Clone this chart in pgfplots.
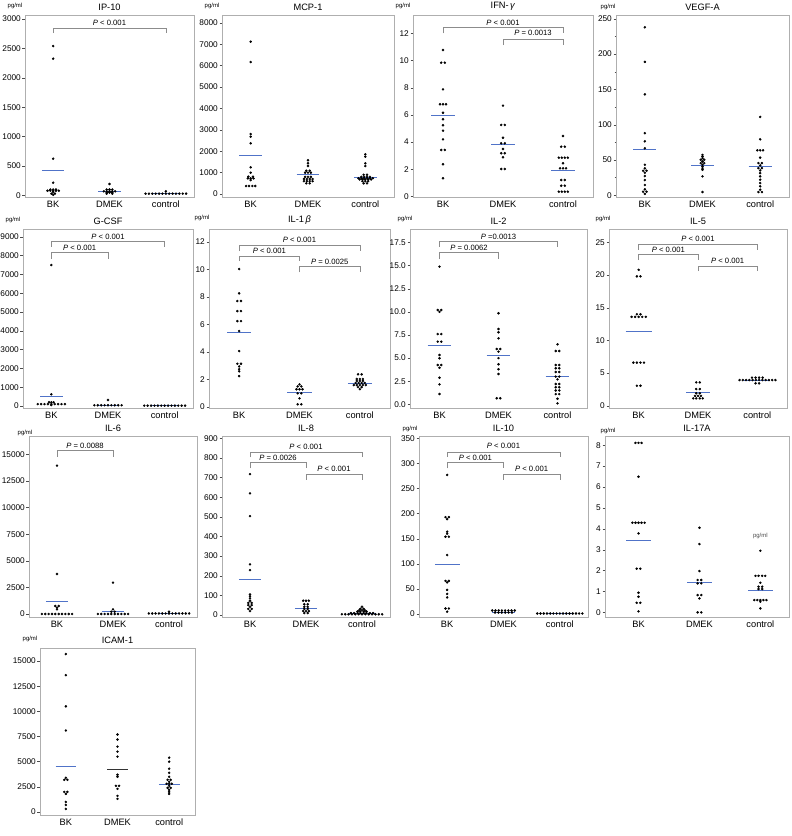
\documentclass[border=0pt]{standalone}
\usepackage{fontspec}
\setmainfont{Liberation Sans}
\usepackage{pgfplots}
\pgfplotsset{compat=1.18}
\definecolor{medc}{RGB}{80,115,200}
\definecolor{framec}{RGB}{175,175,175}
\definecolor{brkc}{RGB}{140,140,140}
\pgfplotsset{
 panel/.style={
  scale only axis, anchor=north west,
  xmin=0.5, xmax=3.5,
  xtick={1,2,3}, xticklabels={BK,DMEK,control},
  xtick style={draw=none},
  ytick pos=left,
  tick align=outside,
  major tick length=2.5bp,
  minor tick length=1.5bp,
  y tick style={black!70, line width=0.4pt},
  axis line style={framec, line width=0.6pt},
  title style={font=\fontsize{9.3}{10}\selectfont, yshift=-5bp},
  /pgf/number format/assume math mode=true,
  yticklabel style={font=\fontsize{8.3}{9}\selectfont, /pgf/number format/1000 sep={}, inner sep=1.5bp},
  xticklabel style={font=\fontsize{9.3}{10}\selectfont, inner sep=1.5bp},
  scaled y ticks=false,
  clip=false,
 },
 dots/.style={only marks, mark=*, mark size=1.05pt, black},
 medl/.style={medc, line width=0.9pt, no marks},
}
\newcommand{\brk}[7]{%
  \draw[brkc, line width=0.6pt] (axis cs:#1,#3) -- (axis cs:#1,#4) -- (axis cs:#2,#4) -- (axis cs:#2,#3);
  \node[font=\fontsize{7.7}{8}\selectfont, inner sep=0pt] at (axis cs:#5,#6) {#7};}
\newcommand{\pgml}[2]{\node[font=\fontsize{6}{7}\selectfont, inner sep=0pt] at (rel axis cs:0,1) [xshift=#1bp, yshift=#2bp] {pg/ml};}
\begin{document}
\begin{tikzpicture}
\path[use as bounding box] (0,0) rectangle (792bp,-836bp);

% ---------------- IP-10
\begin{axis}[panel, at={(25bp,-15bp)}, width=169bp, height=182bp,
  ymin=-27, ymax=3068, ytick={0,500,...,3000}, title={IP-10}]
\addplot[dots] coordinates {(1,2540)(1,2325)(1,624)(1,216)(0.95,100)(1,100)(1.05,100)
 (0.9,80)(0.95,80)(1,80)(1.05,80)(1.1,80)(1,60)(0.97,30)(1.03,30)(1,10)};
\addplot[dots] coordinates {(2,194)(1.95,100)(2,100)(2.05,100)(1.9,70)(1.95,70)(2,70)(2.05,70)(2.1,70)
 (1.95,50)(2,50)(2.05,50)(1.95,30)(2.05,30)};
\addplot[dots] coordinates {(3,70)(2.64,30)(2.70,30)(2.76,30)(2.82,30)(2.88,30)(2.94,30)(3.00,30)(3.06,30)(3.12,30)(3.18,30)(3.24,30)(3.30,30)(3.36,30)};
\addplot[medl] coordinates {(0.8,420)(1.2,420)};
\addplot[medl] coordinates {(1.8,70)(2.2,70)};
\addplot[medl] coordinates {(2.75,30)(3.25,30)};
\brk{1}{3}{2760}{2840}{2}{2940}{\textit{P} < 0.001}
\pgml{-10}{9}
\end{axis}

% ---------------- MCP-1
\begin{axis}[panel, at={(222bp,-15bp)}, width=172bp, height=182bp,
  ymin=-140, ymax=8365, ytick={0,1000,...,8000}, title={MCP-1}]
\addplot[dots] coordinates {(1,7117)(1,6168)(1,2804)(1,2678)(1,2369)(1,1248)(1,995)(0.96,810)(1.04,810)
 (0.95,730)(1,730)(1.05,730)(1,650)(0.92,374)(0.97,374)(1.03,374)(1.08,374)};
\addplot[dots] coordinates {(2,1575)(2,1434)(2,1308)(1.97,1090)(2.03,1090)(1.95,1000)(2,1000)(2.05,1000)
 (1.95,800)(2,800)(2.05,800)(1.93,700)(1.98,700)(2.03,700)(2.08,700)(1.93,600)(1.98,600)(2.03,600)(2.08,600)(1.97,500)(2.03,500)};
\addplot[dots] coordinates {(3,1855)(3,1743)(3,1434)(3,1308)(2.97,900)(3.03,900)(2.93,800)(2.98,800)(3.03,800)(3.08,800)
 (2.88,740)(2.93,740)(2.98,740)(3.03,740)(3.08,740)(3.13,740)(2.9,680)(2.95,680)(3,680)(3.05,680)(3.1,680)
 (2.95,600)(3,600)(3.05,600)(2.97,500)(3.03,500)};
\addplot[medl] coordinates {(0.8,1808)(1.2,1808)};
\addplot[medl] coordinates {(1.8,920)(2.2,920)};
\addplot[medl] coordinates {(2.8,780)(3.2,780)};
\pgml{-10}{9}
\end{axis}

% ---------------- IFN-gamma
\begin{axis}[panel, at={(413bp,-15bp)}, width=180bp, height=182bp,
  ymin=-0.04, ymax=13.35, ytick={0,2,...,12}, title={IFN-\,\textit{γ}}]
\addplot[dots] coordinates {(1,10.77)(0.97,9.84)(1.03,9.84)(1,7.88)(0.95,6.78)(1,6.78)(1.05,6.78)(1,6.16)(1,5.68)
 (1,5.24)(1,4.84)(1,4.2)(0.97,3.42)(1.03,3.42)(1,2.37)(1,1.34)};
\addplot[dots] coordinates {(2,6.68)(1.97,5.26)(2.03,5.26)(2,4.32)(1.97,3.91)(2.03,3.91)(2,3.49)(1.97,3.18)(2.03,3.18)
 (2,2.88)(1.97,2.02)(2.03,2.02)};
\addplot[dots] coordinates {(3,4.45)(2.97,3.66)(3.03,3.66)(2.93,2.85)(2.98,2.85)(3.03,2.85)(3.08,2.85)(3,2.44)
 (2.95,2.07)(3,2.07)(3.05,2.07)(2.97,1.21)(3.03,1.21)(2.97,0.79)(3.03,0.79)(2.93,0.35)(2.98,0.35)(3.03,0.35)(3.08,0.35)};
\addplot[medl] coordinates {(0.8,5.97)(1.2,5.97)};
\addplot[medl] coordinates {(1.8,3.81)(2.2,3.81)};
\addplot[medl] coordinates {(2.8,1.95)(3.2,1.95)};
\brk{1}{3}{12.0}{12.44}{2}{12.8}{\textit{P} < 0.001}
\brk{2}{3}{11.14}{11.58}{2.5}{12.0}{\textit{P} = 0.0013}
\pgml{-10}{9}
\end{axis}

% ---------------- VEGF-A
\begin{axis}[panel, at={(616bp,-15bp)}, width=173bp, height=182bp,
  ymin=-2.4, ymax=255.4, ytick={0,50,...,250}, minor y tick num=1, title={VEGF-A}]
\addplot[dots] coordinates {(1,238)(1,189)(1,143)(1,88)(1,76.5)(1,66.6)(1,43.3)(1,38.1)(0.97,34.8)(1.03,34.8)(1,32)
 (1,27.3)(1,21.6)(1,14.6)(1,8.4)(0.97,5.1)(1.03,5.1)(1,2)};
\addplot[dots] coordinates {(2,57.3)(2,55)(2,52.6)(1.97,50.3)(2.03,50.3)(2,47.9)(1.97,45.6)(2.03,45.6)(2,43.2)(2,40.9)
 (2,38.5)(2,36.2)(2,26.8)(2,4.6)};
\addplot[dots] coordinates {(3,111)(3,79.3)(2.95,63.7)(3,63.7)(3.05,63.7)(3,53.4)(2.97,45.6)(3.03,45.6)(3,42.3)
 (2.97,38.5)(3.03,38.5)(3,35.2)(3,31.4)(3,26.8)(3,22.1)(3,17.4)(3,12.7)(3,8)(2.97,4.6)(3.03,4.6)};
\addplot[medl] coordinates {(0.8,65.2)(1.2,65.2)};
\addplot[medl] coordinates {(1.8,41.9)(2.2,41.9)};
\addplot[medl] coordinates {(2.8,41)(3.2,41)};
\pgml{-8}{8}
\end{axis}

% ---------------- G-CSF
\begin{axis}[panel, at={(23bp,-229bp)}, width=170bp, height=179bp,
  ymin=-106, ymax=9415, ytick={0,1000,...,9000}, title={G-CSF}]
\addplot[dots] coordinates {(1,7500)(1,622)(0.96,200)(1,200)(1.04,200)(0.76,100)(0.82,100)(0.88,100)(0.94,100)(1,100)
 (1.06,100)(1.12,100)(1.18,100)(1.24,100)(1,50)};
\addplot[dots] coordinates {(2,319)(1.76,40)(1.82,40)(1.88,40)(1.94,40)(2,40)(2.06,40)(2.12,40)(2.18,40)(2.24,40)};
\addplot[dots] coordinates {(2.64,20)(2.70,20)(2.76,20)(2.82,20)(2.88,20)(2.94,20)(3.00,20)(3.06,20)(3.12,20)(3.18,20)(3.24,20)(3.30,20)(3.36,20)};
\addplot[medl] coordinates {(0.8,532)(1.2,532)};
\addplot[medl] coordinates {(1.8,40)(2.2,40)};
\addplot[medl] coordinates {(2.75,20)(3.25,20)};
\brk{1}{2}{7819}{8176}{1.5}{8420}{\textit{P} < 0.001}
\brk{1}{3}{8473}{8740}{2}{9005}{\textit{P} < 0.001}
\pgml{-10}{9}
\end{axis}

% ---------------- IL-1beta
\begin{axis}[panel, at={(209bp,-229bp)}, width=181bp, height=179bp,
  ymin=-0.07, ymax=12.95, ytick={0,2,...,12}, title={IL-1\,\textit{β}}]
\addplot[dots] coordinates {(1,10.04)(1,8.27)(0.97,7.71)(1.03,7.71)(0.97,6.98)(1.03,6.98)(0.97,6.25)(1.03,6.25)(1,5.53)
 (1,4.07)(0.97,3.15)(1.03,3.15)(1,2.95)(1,2.75)(1,2.6)(1,2.25)};
\addplot[dots] coordinates {(2,1.65)(1.97,1.5)(2.03,1.5)(1.95,1.29)(2,1.29)(2.05,1.29)(1.97,1.0)(2.03,1.0)(2,0.63)(1.97,0.2)(2.03,0.2)};
\addplot[dots] coordinates {(2.97,2.38)(3.03,2.38)(2.95,2.04)(3,2.04)(3.05,2.04)(2.95,1.9)(3,1.9)(3.05,1.9)(2.93,1.75)(2.98,1.75)
 (3.03,1.75)(3.08,1.75)(2.9,1.6)(2.95,1.6)(3,1.6)(3.05,1.6)(3.1,1.6)(2.97,1.45)(3.03,1.45)(3,1.3)};
\addplot[medl] coordinates {(0.8,5.43)(1.2,5.43)};
\addplot[medl] coordinates {(1.8,1.07)(2.2,1.07)};
\addplot[medl] coordinates {(2.8,1.72)(3.2,1.72)};
\brk{1}{3}{11.35}{11.78}{2}{12.15}{\textit{P} < 0.001}
\brk{1}{2}{10.62}{10.98}{1.5}{11.37}{\textit{P} < 0.001}
\brk{2}{3}{9.8}{10.25}{2.5}{10.57}{\textit{P} = 0.0025}
\pgml{-7}{11}
\end{axis}

% ---------------- IL-2
\begin{axis}[panel, at={(410bp,-229bp)}, width=177bp, height=179bp,
  ymin=-0.4, ymax=18.97, ytick={0,2.5,...,17.5}, title={IL-2},
  yticklabel style={/pgf/number format/.cd, fixed, fixed zerofill, precision=1}]
\addplot[dots] coordinates {(1,14.9)(0.97,10.2)(1.03,10.2)(1,10.0)(0.97,7.6)(1.03,7.6)(0.97,6.78)(1.03,6.78)(1,5.34)(1,4.98)
 (0.97,4.25)(1.03,4.25)(1,3.95)(1,2.88)(1,2.16)(1,1.11)};
\addplot[dots] coordinates {(2,9.85)(2,8.15)(2,7.8)(2,7.14)(1.97,5.98)(2.03,5.98)(2,5.7)(2,5.0)(2,4.33)(2,3.8)(2,3.28)(1.97,0.65)(2.03,0.65)};
\addplot[dots] coordinates {(3,6.49)(2.97,5.77)(3.03,5.77)(2.97,4.25)(3.03,4.25)(2.97,3.9)(3.03,3.9)(2.97,3.5)(3.03,3.5)(2.97,3.0)
 (3.03,3.0)(3,2.7)(2.97,2.2)(3.03,2.2)(2.97,1.85)(3.03,1.85)(2.97,1.5)(3.03,1.5)(2.97,1.1)(3.03,1.1)(3,0.6)(3,0.1)};
\addplot[medl] coordinates {(0.8,6.34)(1.2,6.34)};
\addplot[medl] coordinates {(1.8,5.26)(2.2,5.26)};
\addplot[medl] coordinates {(2.8,2.99)(3.2,2.99)};
\brk{1}{3}{17.06}{17.6}{2}{18.14}{\textit{P} =0.0013}
\brk{1}{2}{15.72}{16.45}{1.5}{16.95}{\textit{P} = 0.0062}
\pgml{-5}{10}
\end{axis}

% ---------------- IL-5
\begin{axis}[panel, at={(609bp,-229bp)}, width=178bp, height=179bp,
  ymin=-0.35, ymax=27.05, ytick={0,5,...,25}, title={IL-5}]
\addplot[dots] coordinates {(1,20.8)(0.97,19.8)(1.03,19.8)(0.97,14.0)(1.03,14.0)(0.88,13.6)(0.94,13.6)(1,13.6)(1.06,13.6)(1.12,13.6)
 (0.91,6.6)(0.97,6.6)(1.03,6.6)(1.09,6.6)(0.97,3.06)(1.03,3.06)};
\addplot[dots] coordinates {(1.97,3.57)(2.03,3.57)(1.97,2.55)(2.03,2.55)(1.97,1.9)(2.03,1.9)(1.95,1.5)(2,1.5)(2.05,1.5)
 (1.92,1.12)(1.97,1.12)(2.03,1.12)(2.08,1.12)};
\addplot[dots] coordinates {(2.91,4.3)(2.97,4.3)(3.03,4.3)(3.09,4.3)(2.70,3.93)(2.755,3.93)(2.81,3.93)(2.865,3.93)(2.92,3.93)(2.975,3.93)
 (3.03,3.93)(3.085,3.93)(3.14,3.93)(3.195,3.93)(3.25,3.93)(3.305,3.93)(2.97,3.43)(3.03,3.43)};
\addplot[medl] coordinates {(0.78,11.4)(1.22,11.4)};
\addplot[medl] coordinates {(1.8,2.0)(2.2,2.0)};
\addplot[medl] coordinates {(2.78,3.93)(3.22,3.93)};
\brk{1}{3}{23.9}{24.7}{2}{25.5}{\textit{P} < 0.001}
\brk{1}{2}{22.3}{23.2}{1.5}{23.9}{\textit{P} < 0.001}
\brk{2}{3}{20.6}{21.4}{2.5}{22.2}{\textit{P} < 0.001}
\pgml{-6}{10}
\end{axis}

% ---------------- IL-6
\begin{axis}[panel, at={(29bp,-436bp)}, width=168bp, height=181bp,
  ymin=-282, ymax=16729, ytick={0,2500,...,15000}, title={IL-6}]
\addplot[dots] coordinates {(1,13941)(1,3759)(0.97,752)(1.03,752)(1,600)(1,438)(0.73,0)(0.79,0)(0.85,0)(0.91,0)(0.97,0)
 (1.03,0)(1.09,0)(1.15,0)(1.21,0)(1.27,0)};
\addplot[dots] coordinates {(2,2945)(2,438)(1.97,219)(2.03,219)(1.73,0)(1.79,0)(1.85,0)(1.91,0)(1.97,0)(2.03,0)(2.09,0)(2.15,0)(2.21,0)(2.27,0)};
\addplot[dots] coordinates {(3,219)(2.64,50)(2.70,50)(2.76,50)(2.82,50)(2.88,50)(2.94,50)(3.00,50)(3.06,50)(3.12,50)(3.18,50)(3.24,50)(3.30,50)(3.36,50)};
\addplot[medl] coordinates {(0.8,1222)(1.2,1222)};
\addplot[medl] coordinates {(1.8,250)(2.2,250)};
\addplot[medl] coordinates {(2.8,60)(3.2,60)};
\brk{1}{2}{14787}{15413}{1.5}{15820}{\textit{P} = 0.0088}
\pgml{-4}{3}
\end{axis}

% ---------------- IL-8
\begin{axis}[panel, at={(222bp,-436bp)}, width=168bp, height=181bp,
  ymin=-10, ymax=912, ytick={0,100,...,900}, title={IL-8}]
\addplot[dots] coordinates {(1,718)(1,620)(1,504)(1,258)(1,229)(1,105)(1,95)(1,85)(1,73)(0.97,62)(1.03,62)(0.97,51)(1.03,51)
 (1,42)(0.97,31)(1.03,31)(1,20)};
\addplot[dots] coordinates {(1.95,73)(2,73)(2.05,73)(1.97,55)(2.03,55)(1.97,42)(2.03,42)(1.97,31)(2.03,31)(1.95,20)(2,20)(2.05,20)
 (1.97,10)(2.03,10)};
\addplot[dots] coordinates {(3,42)(2.97,32)(3.03,32)(2.95,25)(3,25)(3.05,25)(2.92,18)(2.97,18)(3.03,18)(3.08,18)
 (2.8,10)(2.86,10)(2.92,10)(2.97,10)(3.03,10)(3.08,10)(3.14,10)(3.2,10)
 (2.64,4)(2.70,4)(2.76,4)(2.82,4)(2.88,4)(2.94,4)(3.00,4)(3.06,4)(3.12,4)(3.18,4)(3.24,4)(3.30,4)(3.36,4)};
\addplot[medl] coordinates {(0.8,182)(1.2,182)};
\addplot[medl] coordinates {(1.8,36)(2.2,36)};
\addplot[medl] coordinates {(2.75,8.5)(3.25,8.5)};
\brk{1}{3}{803}{829}{2}{857}{\textit{P} < 0.001}
\brk{1}{2}{747}{776}{1.5}{803}{\textit{P} = 0.0026}
\brk{2}{3}{688}{718}{2.5}{747}{\textit{P} < 0.001}
\end{axis}

% ---------------- IL-10
\begin{axis}[panel, at={(419bp,-436bp)}, width=169bp, height=181bp,
  ymin=-6, ymax=354.6, ytick={0,50,...,350}, title={IL-10}]
\addplot[dots] coordinates {(1,277)(0.97,193)(1.03,193)(1,189)(1,164)(1,160)(0.97,154)(1.03,154)(1,117.5)(0.97,66)(1.03,66)
 (1,63)(1,48)(1,40)(1,33)(0.97,11)(1.03,11)(1,4.6)};
\addplot[dots] coordinates {(1.8,7)(1.857,7)(1.914,7)(1.971,7)(2.029,7)(2.086,7)(2.143,7)(2.2,7)
 (1.85,3)(1.91,3)(1.97,3)(2.03,3)(2.09,3)(2.15,3)};
\addplot[dots] coordinates {(2.6,1)(2.657,1)(2.714,1)(2.771,1)(2.829,1)(2.886,1)(2.943,1)(3,1)(3.057,1)(3.114,1)(3.171,1)(3.229,1)
 (3.286,1)(3.343,1)(3.4,1)};
\addplot[medl] coordinates {(0.78,99)(1.22,99)};
\addplot[medl] coordinates {(1.8,4)(2.2,4)};
\addplot[medl] coordinates {(2.75,1)(3.25,1)};
\brk{1}{3}{313}{323}{2}{335}{\textit{P} < 0.001}
\brk{1}{2}{290}{301.5}{1.5}{312}{\textit{P} < 0.001}
\brk{2}{3}{267}{278}{2.5}{289}{\textit{P} < 0.001}
\pgml{-9}{7}
\end{axis}

% ---------------- IL-17A
\begin{axis}[panel, at={(605bp,-436bp)}, width=184bp, height=181bp, xmin=0.45, xmax=3.47,
  ymin=-0.22, ymax=8.44, ytick={0,1,...,8}, title={IL-17A}]
\addplot[dots] coordinates {(0.95,8.11)(1,8.11)(1.05,8.11)(1,6.49)(0.9,4.29)(0.95,4.29)(1,4.29)(1.05,4.29)(1.1,4.29)(1,3.78)
 (0.97,2.09)(1.03,2.09)(1,0.94)(1,0.75)(0.97,0.46)(1.03,0.46)(1,0.05)};
\addplot[dots] coordinates {(2,4.05)(2,3.27)(2,1.98)(1.97,1.55)(2.03,1.55)(1.97,1.39)(2.03,1.39)(1.97,0.83)(2.03,0.83)(2,0.67)(1.97,0)(2.03,0)};
\addplot[dots] coordinates {(3,2.95)(2.92,1.75)(2.97,1.75)(3.03,1.75)(3.08,1.75)(3,1.42)(2.97,1.23)(3.03,1.23)(2.97,1.12)(3.03,1.12)
 (2.9,0.59)(2.95,0.59)(3,0.59)(3.05,0.59)(3.1,0.59)(3,0.51)(3,0.19)};
\addplot[medl] coordinates {(0.8,3.43)(1.2,3.43)};
\addplot[medl] coordinates {(1.8,1.45)(2.2,1.45)};
\addplot[medl] coordinates {(2.8,1.07)(3.2,1.07)};
\node[font=\fontsize{6}{7}\selectfont, inner sep=0pt, black!70] at (axis cs:3,3.65) {pg/ml};
\pgml{3}{5}
\end{axis}

% ---------------- ICAM-1
\begin{axis}[panel, at={(40bp,-648bp)}, width=155bp, height=167bp,
  ymin=-300, ymax=16300, ytick={0,2500,...,15000}, title={ICAM-1}]
\addplot[dots] coordinates {(1,15700)(1,13600)(1,10500)(1,8100)(1,3400)(0.97,3200)(1.03,3200)(0.97,2000)(1.03,2000)(1,1800)
 (1,1000)(1,700)(1,300)};
\addplot[dots] coordinates {(2,7700)(2,7200)(2,6500)(2,6000)(2,5500)(2,3700)(2,3500)(1.97,2600)(2.03,2600)(2,2300)(2,1600)(2,1300)};
\addplot[dots] coordinates {(3,5400)(3,5000)(3,4300)(3,3900)(3,3500)(2.97,3200)(3.03,3200)(3,3000)(2.95,2800)(3,2800)(3.05,2800)
 (3,2600)(2.97,2400)(3.03,2400)(3,2200)(3,2000)(3,1800)};
\addplot[medl] coordinates {(0.8,4500)(1.2,4500)};
\addplot[medl, black!80] coordinates {(1.8,4200)(2.2,4200)};
\addplot[medl] coordinates {(2.8,2700)(3.2,2700)};
\pgml{-10}{9}
\end{axis}
\end{tikzpicture}
\end{document}
